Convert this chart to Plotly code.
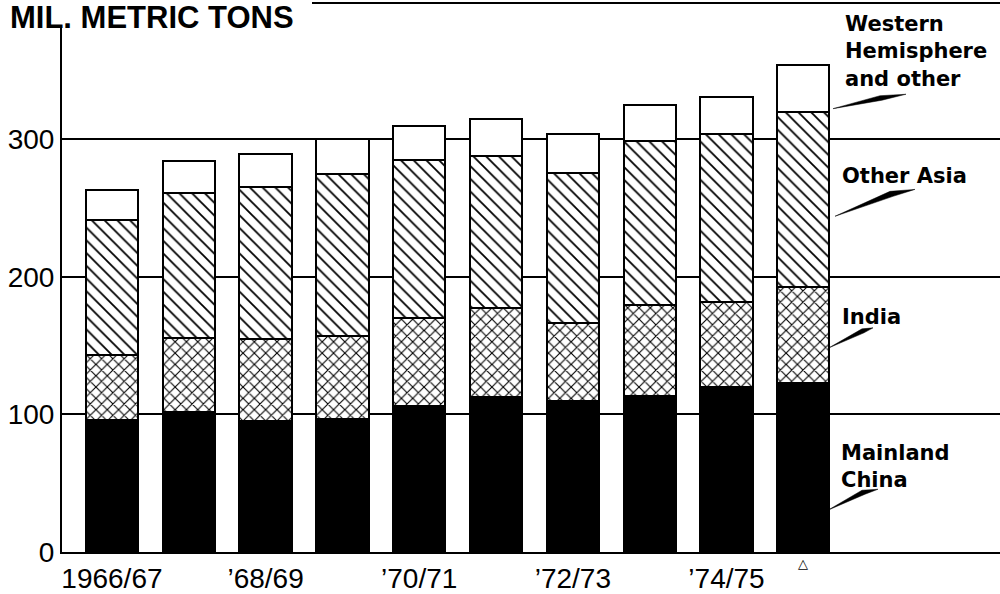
import plotly.graph_objects as go

# ---- data (million metric tons) ----
years = ["1966/67", "1967/68", "1968/69", "1969/70", "1970/71",
         "1971/72", "1972/73", "1973/74", "1974/75", "1975/76"]
tick_labels = ["1966/67", "", "\u201968/69", "", "\u201970/71",
               "", "\u201972/73", "", "\u201974/75", ""]
china = [96, 102, 95, 97, 106, 113, 110, 113.5, 120, 123]
india = [47, 53.5, 60, 60, 64, 64, 56.5, 66, 62, 69.5]
other_asia = [98.5, 105.5, 110, 118, 115, 111, 109, 119, 121.5, 127.5]
western = [21.5, 23, 24, 25, 24.5, 26.5, 28, 26, 27.5, 34]
y_ticks = [0, 100, 200, 300]

xs = list(range(len(years)))

# plot-area geometry in pixels (for decorative annotations only)
L, R, T, B = 62, 1000, 25, 554
W_PX, H_PX = 1000, 594


def px(x):
    return (x - L) / (R - L)


def py(y):
    return (B - y) / (B - T)


fig = go.Figure()
outline = dict(color="black", width=2)
bw = 0.68

fig.add_trace(go.Bar(x=xs, y=china, width=bw, name="Mainland China",
                     marker=dict(color="black", line=outline)))
fig.add_trace(go.Bar(x=xs, y=india, width=bw, name="India",
                     marker=dict(color="white", line=outline,
                                 pattern=dict(shape="x", size=8, solidity=0.26,
                                              fgcolor="black", bgcolor="white",
                                              fillmode="replace"))))
fig.add_trace(go.Bar(x=xs, y=other_asia, width=bw, name="Other Asia",
                     marker=dict(color="white", line=outline,
                                 pattern=dict(shape="\\", size=9, solidity=0.2,
                                              fgcolor="black", bgcolor="white",
                                              fillmode="replace"))))
fig.add_trace(go.Bar(x=xs, y=western, width=bw, name="Western Hemisphere and other",
                     marker=dict(color="white", line=outline)))

tick_font = dict(family="Liberation Sans, Arial, sans-serif", size=28, color="black")
label_font = dict(family="DejaVu Sans, sans-serif", size=21, color="black", weight="bold")

fig.update_layout(
    width=W_PX, height=H_PX,
    margin=dict(l=L, r=W_PX - R, t=T, b=H_PX - B),
    barmode="stack",
    showlegend=False,
    paper_bgcolor="white",
    plot_bgcolor="white",
    xaxis=dict(range=[-0.65, 11.56], tickmode="array", tickvals=xs, ticktext=tick_labels,
               showgrid=False, zeroline=False, showline=True, linecolor="black",
               linewidth=2, ticks="", tickfont=tick_font),
    yaxis=dict(range=[0, 383], tickmode="array", tickvals=y_ticks,
               showgrid=True, gridcolor="black", gridwidth=2, zeroline=False,
               showline=True, linecolor="black", linewidth=2, ticks="",
               tickfont=tick_font),
)

# title and frame line
fig.add_annotation(text="<b>MIL. METRIC TONS</b>", xref="paper", yref="paper",
                   x=px(8), y=py(0), xanchor="left", yanchor="top",
                   height=30, valign="middle",
                   showarrow=False,
                   font=dict(family="Liberation Sans, Arial, sans-serif", size=31, color="black"))
fig.add_shape(type="line", xref="paper", yref="paper", x0=px(312), x1=px(1000),
              y0=py(3), y1=py(3), line=dict(color="black", width=2))

# series labels at the right
labels = [
    ("Western<br>Hemisphere<br>and other", 843, 52),
    ("Other Asia", 840, 177),
    ("India", 840, 318),
    ("Mainland<br>China", 839, 468),
]
for text, lx, ly in labels:
    fig.add_annotation(text=text, xref="paper", yref="paper", x=px(lx), y=py(ly),
                       xanchor="left", yanchor="middle", align="left",
                       showarrow=False, font=label_font)

# tapered leader wedges
wedges = [
    [(833, 109), (880, 96), (906, 94.5), (882, 100.5)],
    [(835, 217), (890, 192), (915, 190), (893, 197)],
    [(829, 349), (862, 330), (873, 329), (864, 334)],
    [(828, 512), (862, 492), (878, 491), (865, 496)],
]
for pts in wedges:
    path = "M " + " L ".join(f"{px(a):.5f},{py(b):.5f}" for a, b in pts) + " Z"
    fig.add_shape(type="path", xref="paper", yref="paper", path=path,
                  fillcolor="black", line=dict(color="black", width=0.5))

# preliminary marker under the last bar
fig.add_annotation(text="\u25b3", xref="x", yref="paper", x=xs[-1], y=py(566),
                   xanchor="center", yanchor="middle", showarrow=False,
                   font=dict(family="DejaVu Sans, sans-serif", size=13, color="black"))

fig.write_html("out.html", config={"displayModeBar": False},
               post_script="document.body.style.margin='0';")
